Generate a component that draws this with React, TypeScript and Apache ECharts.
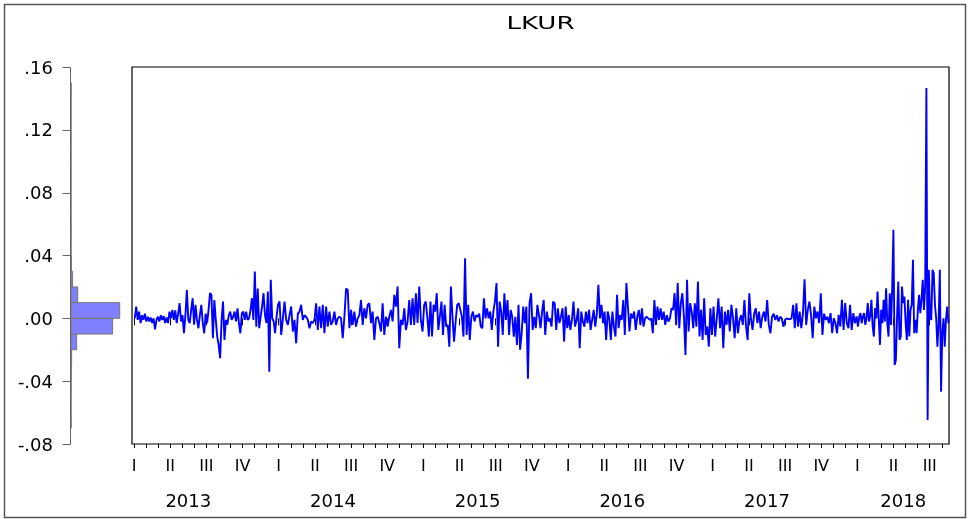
import React, { useEffect, useRef } from 'react';
import * as echarts from 'echarts';

const chartTitle = 'LKUR';
const years = [2013, 2014, 2015, 2016, 2017, 2018];
// months of data in each calendar year (2018 ends mid-August)
const monthsCovered = [12, 12, 12, 12, 12, 7.6];
const quarterLabels = ['I', 'II', 'III', 'IV'];

// daily values, in units of 0.001
const lkur2013 = [0, 7.5, -1, 4.3, -3, 2, -1, 3, -2, 1, -2, 0.5, -3, 0, -7, -1, 1, -2, 2, -1, 1.5, -3, 0.5, -3, 4.3, 0, 5.4, -1, 5, -3, 3, 9.6, -2, 2, -9.5, 2, 18, -1, -3, 5.4, 12.8, -4, 8.6, -1, -6.3, 2, 8.6, -3, -9.5, 3, -3, 5.4, 16, 15, -12.7, 11.7, -1, -11.6, -17, -25.4, -1, 10.7, -13.8, -1, -4, 2, 4.3, -1, 1, 4.3, -2, 6.4, -3, -9.5, 3, 4.3, -1, 4.3, -1, 0, 5.4, 12.8, -1, 29.8, -5.3, 19, -6.3, 1, 7.5, 16, 2, -3, 17, -34, 24.5, 0, -2, -9.5, 1, 8.6];
const lkur2014 = [10.7, -10.6, 0, 10.7, -1, -4.2, 2, 7.5, -8.4, -1, -15.9, 3, 4.3, 8.6, -1, 2, 1, -1, -6.3, -2, -3, -1, 9.6, -7.4, 7.5, -6.3, 8.6, -9.5, 7.5, -5.3, 4.3, -4.2, -2, 4.3, -4.2, 0, 1, 0, -12.7, 1, 19, 18, -6.3, 5.4, -4.2, 4.3, -5.3, 0, 2, 11.7, -4.2, 6.4, 0, 8.6, 9.6, -3, 4.3, -13.8, 0, 1, -3, -8.4, 9.6, -10.6, 1, -5.3, 1, 5.4, -2, 15, 7.5, 20.3, -19, -1, -4.2, 6.4, -7.4, -2, 11.7, -4.2, 12.8, -4.2, 16, -3, 20.3, -1, -8.4];
const lkur2015 = [8.6, 10.7, 1, -11.6, 10.7, -11.6, 8.6, 4.3, 16, -7.4, 1, 10.7, -10.6, 8.6, -5.3, -4.2, -18, 20.3, 1, -14.8, -2, 8.6, 9.6, 5.4, 1, -11.6, 38.3, -10.6, 8.6, -13.8, 1, 4.3, -2, 2, 1, 3, -5.3, -6.3, 12.8, 0, 6.4, 0, 4.3, -7.4, 4.3, 10.7, 22.4, -18, 10.7, 4.3, -10.6, 16, -1, 11.7, -10.6, 5.4, 1, -11.6, 1, -17, 8.6, -20, -9.5, 7.5, -3, 7.5, -38.5, 9.6, 16, -7.4, 1, -6.3, 8.6, 2, -6.3, 4.3, 11.7, -10.6, 4.3, -2, 0, -5.3, 10.7, 9.6, -7.4, 6.4, -3, 1, 6.4, -14.8, 7.5, -6.3];
const lkur2016 = [2, -7.4, -1, 10.7, -5.3, -1, 6.4, -19, 4.3, -2, -5.3, 4.3, -3, 5.4, -7.4, -1, 5.4, -5.3, 3, 21.3, 0, 8.6, -3, 4.3, -13.8, 4.3, 0, -13.8, 4.3, -5.3, -11.6, 15, -6.3, 2, -1, 11.7, -10.6, 22.4, 7.5, -8.4, 3, 0, 4.3, -7.4, 1, 5.4, -4.2, 6.4, -5.3, 0, 1, 0, -1, 0, -9.5, 11.7, -4.2, 7.5, -1, 6.4, -1, 4.3, -4.2, 2, -2, 0, 6.4, 5.4, 16, -4.2, 22.4, -6.3, 9.6, 16, 1, -23.3, 24.5, -8.4, 9.6, 4.3, -6.3, 9.6, -5.3, 23.4, -11.6, 5.4, -13.8, 12.8, -10.6, -5.3, -18, 6.4, -10.6];
const lkur2017 = [7.5, -11.6, 0, 12.8, -6.3, 7.5, -19, 4.3, -4.2, 5.4, -8.4, 8.6, 0, -12.7, 6.4, -9.5, -1, 2, -4.2, 11.7, -5.3, -13.8, 16, 0, -7.4, 3, 6.4, -3, 4.3, -6.3, 1, 4.3, -2, 11.7, -4.2, -9.5, 1, 3, -1, 2, -2, 1, 0, -5.3, -1, 0, -0.5, -0.5, 0, 8.6, -6.3, 9.6, -5.3, 4.3, -6.3, 3, 24.9, -4.2, 5.4, 10.7, 2, -12.7, 7.5, 0, 4.3, -3, 16, -10.6, 3, -1, 1, -3.1, 3.3, -9.5, 0.1, -3.1, -9.5, 2.2, -5.2, 11.8, -7.4, 9.7, -3.1, -6.3, 8.6, -7.4, 3.3, -3.1, 1.2];
const lkur2018 = [-5.2, 1, 3.3, -3.1, 1, 3.3, -4.2, 0, 9.7, -2, 1.2, 11.8, -5.2, -11.6, 6.5, 0, 17.1, 0, -16.9, 5.4, -3.1, 11.8, -2, 19.2, -3.1, -11.6, 16, -4.2, 19.2, 56.4, -29.7, -26.5, 1.2, 23.5, -13.7, -11.6, 20.3, 9.7, 13.9, -3.1, -13.7, 11.8, -11.6, 5.4, 8.6, 37.3, -9.5, -1, -9.5, 5.4, 15, 3.3, 11.8, 24.5, 5.4, 20.3, 146.7, -64.7, 30.9, 1.2, -1, 30.9, 28.8, 8.6, 0, -18, -3.1, 30.9, -46.7, -9.5, 0, -18, -1, 7.5, -3.1];
const lkurByYear = [lkur2013, lkur2014, lkur2015, lkur2016, lkur2017, lkur2018];

// histogram on the left axis: bin lower edges and counts
const histBinLower = [-0.07, -0.06, -0.05, -0.04, -0.03, -0.02, -0.01, 0.0, 0.01, 0.02, 0.03, 0.04, 0.05, 0.06, 0.07, 0.08, 0.09, 0.1, 0.11, 0.12, 0.13, 0.14];
const histBinCounts = [1, 0, 1, 3, 8, 72, 530, 620, 85, 20, 5, 0, 1, 0, 0, 0, 0, 0, 0, 0, 0, 1];

const yMin = -0.08;
const yMax = 0.16;
const yStep = 0.04;

const FONT = '"DejaVu Sans", Arial, sans-serif';

export default function App() {
  const ref = useRef<HTMLDivElement>(null);
  useEffect(() => {
    const chart = echarts.init(ref.current as HTMLDivElement, null, { renderer: 'svg' });

    const lineData: number[][] = [];
    lkurByYear.forEach((arr, i) => {
      const span = monthsCovered[i];
      arr.forEach((v, j) => {
        lineData.push([i * 12 + ((j + 0.5) * span) / arr.length, v / 1000]);
      });
    });
    const totalMonths = (years.length - 1) * 12 + monthsCovered[years.length - 1];
    const quarterStarts: number[] = [];
    for (let m = 0; m < totalMonths; m += 3) quarterStarts.push(m);
    const monthTicks: number[] = [];
    for (let m = 0; m <= Math.floor(totalMonths); m++) monthTicks.push(m);
    const yearCenters = years.map((_, i) => i * 12 + Math.min(monthsCovered[i], 9) / 2);
    const histData = histBinLower.map((lo, i) => [lo, lo + 0.01, histBinCounts[i]]);
    const yTickData: number[][] = [];
    for (let k = 0; yMin + k * yStep <= yMax + 1e-9; k++) yTickData.push([0, +(yMin + k * yStep).toFixed(2)]);
    const xMin = -0.17;
    const xMax = totalMonths;

    const yFmt = (v: number) => {
      const s = Math.abs(v).toFixed(2).slice(1);
      return (v < -1e-9 ? '-' : '') + s;
    };

    chart.setOption({
      animation: false,
      graphic: [
        {
          type: 'rect',
          silent: true,
          z: -1,
          shape: { x: 4.5, y: 4.5, width: 961, height: 513 },
          style: { fill: 'none', stroke: '#555', lineWidth: 1.5 },
        },
        {
          type: 'text',
          x: 540.5,
          y: 23,
          scaleX: 1.45,
          style: {
            text: chartTitle,
            textAlign: 'center',
            textVerticalAlign: 'middle',
            font: '18px ' + FONT,
            fill: '#000',
          },
        },
      ],
      grid: [
        { left: 70, top: 67, width: 55, height: 377 },
        { left: 132, top: 67, width: 817, height: 377, show: true, borderColor: '#000', borderWidth: 1.2, backgroundColor: 'transparent' },
      ],
      xAxis: [
        { gridIndex: 0, type: 'value', min: 0, max: 700, axisLine: { show: false }, axisTick: { show: false }, axisLabel: { show: false }, splitLine: { show: false } },
        {
          gridIndex: 1,
          type: 'value',
          position: 'bottom',
          min: xMin,
          max: xMax,
          axisLine: { show: false },
          splitLine: { show: false },
          axisTick: { show: true, customValues: quarterStarts, length: 7, lineStyle: { color: '#000' } },
          axisLabel: {
            customValues: quarterStarts,
            formatter: (v: number) => quarterLabels[Math.round(v / 3) % 4],
            margin: 13,
            fontSize: 16,
            fontFamily: FONT,
            color: '#000',
          },
        },
        {
          gridIndex: 1,
          type: 'value',
          position: 'bottom',
          min: xMin,
          max: xMax,
          axisLine: { show: false },
          splitLine: { show: false },
          axisTick: { show: true, customValues: monthTicks, length: 4, lineStyle: { color: '#000' } },
          axisLabel: {
            customValues: yearCenters,
            formatter: (v: number) => String(years[Math.floor(v / 12)]),
            margin: 47,
            fontSize: 18,
            fontFamily: FONT,
            color: '#000',
          },
        },
      ],
      yAxis: [
        {
          gridIndex: 0,
          type: 'value',
          position: 'left',
          min: yMin,
          max: yMax,
          interval: yStep,
          axisLine: { show: false, onZero: false },
          axisTick: { show: false },
          axisLabel: { formatter: yFmt, margin: 17, fontSize: 18, fontFamily: FONT, color: '#000' },
          splitLine: { show: false },
        },
        { gridIndex: 1, type: 'value', min: yMin, max: yMax, interval: yStep, axisLine: { show: false }, axisTick: { show: false }, axisLabel: { show: false }, splitLine: { show: false } },
      ],
      series: [
        {
          type: 'custom',
          xAxisIndex: 0,
          yAxisIndex: 0,
          clip: false,
          z: 3,
          data: yTickData,
          encode: { x: 0, y: 1 },
          renderItem: (params: any, api: any) => {
            const p = api.coord([0, api.value(1)]);
            const x = Math.round(p[0]) + 0.5;
            const y = Math.round(p[1]) + 0.5;
            const children: any[] = [
              { type: 'line', shape: { x1: x - 8, y1: y, x2: x, y2: y }, style: { stroke: '#666', lineWidth: 1 } },
            ];
            if (params.dataIndex === 0) {
              const top = api.coord([0, yMax]);
              const bot = api.coord([0, yMin]);
              children.push({
                type: 'line',
                shape: { x1: x, y1: Math.round(top[1]) + 0.5, x2: x, y2: Math.round(bot[1]) + 0.5 },
                style: { stroke: '#666', lineWidth: 1 },
              });
            }
            return { type: 'group', children };
          },
        },
        {
          type: 'custom',
          xAxisIndex: 0,
          yAxisIndex: 0,
          data: histData,
          encode: { x: 2, y: [0, 1] },
          renderItem: (params: any, api: any) => {
            const lo = api.value(0);
            const hi = api.value(1);
            const c = api.value(2);
            const p0 = api.coord([0, hi]);
            const p1 = api.coord([c, lo]);
            return {
              type: 'rect',
              shape: { x: p0[0] + 1, y: p0[1], width: p1[0] - p0[0], height: p1[1] - p0[1] },
              style: { fill: '#8080ff', stroke: '#777', lineWidth: 1 },
            };
          },
        },
        {
          type: 'line',
          xAxisIndex: 1,
          yAxisIndex: 1,
          data: lineData,
          showSymbol: false,
          symbol: 'none',
          lineStyle: { color: '#0000ff', width: 1.9 },
        },
      ],
    });

    return () => {
      chart.dispose();
    };
  }, []);

  return <div ref={ref} style={{ position: 'fixed', left: 0, top: 0, width: 969, height: 519 }} />;
}
